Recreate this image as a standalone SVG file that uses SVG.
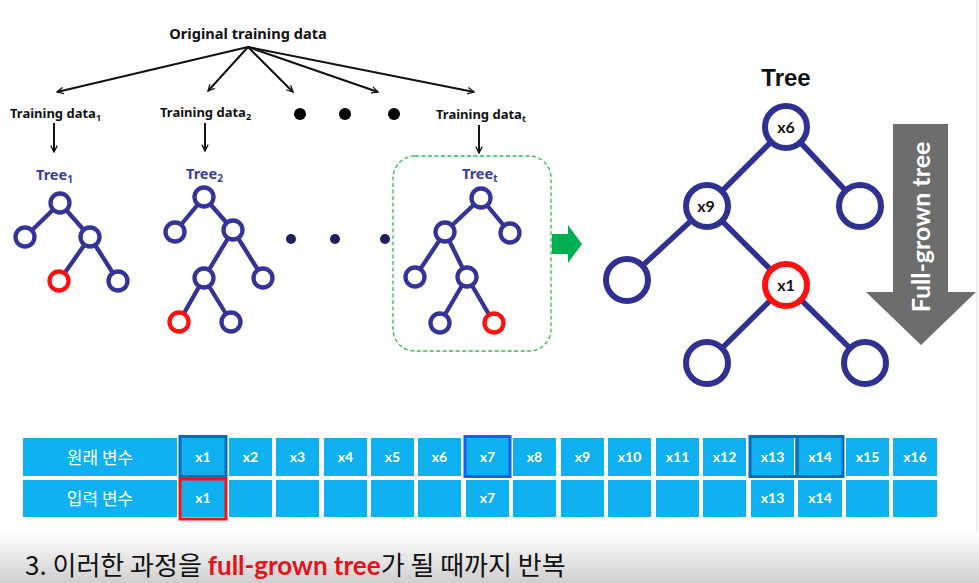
<svg xmlns="http://www.w3.org/2000/svg" width="979" height="583" viewBox="0 0 979 583">
<defs>
<style>
.lbl{font-family:"Noto Sans","Liberation Sans",sans-serif;font-weight:bold;font-size:13px;fill:#111}
.tl{font-family:"Noto Sans","Liberation Sans",sans-serif;font-weight:bold;font-size:14.5px;fill:#3b3b9e}
.e{stroke:#333399;stroke-width:4.3;fill:none}
.n{stroke:#333399;stroke-width:4.3;fill:#fff}
.r{stroke:#ff1010;stroke-width:4.3;fill:#fff}
.be{stroke:#2e3192;stroke-width:5.5;fill:none}
.bn{stroke:#2e3192;stroke-width:6;fill:#fff}
.br{stroke:#ff1010;stroke-width:6;fill:#fff}
.bt{font-family:"Lato","Liberation Sans",sans-serif;font-weight:bold;font-size:16px;fill:#111;text-anchor:middle}
.ar{stroke:#111;stroke-width:2;fill:none}
.cell{fill:#0eb0ef}
.ct{font-family:"Lato","Liberation Sans",sans-serif;font-weight:bold;font-size:14px;fill:#fff;text-anchor:middle}
.kt{font-family:"Noto Sans CJK KR",sans-serif;font-size:17px;fill:#fff;text-anchor:middle}
</style>
<marker id="ah" viewBox="0 0 10 10" refX="9" refY="5" markerWidth="8" markerHeight="8" orient="auto" markerUnits="userSpaceOnUse">
<path d="M1,1 L9,5 L1,9" fill="none" stroke="#111" stroke-width="1.6"/>
</marker>
<linearGradient id="bg" x1="0" y1="0" x2="0" y2="1">
<stop offset="0" stop-color="#ffffff"/>
<stop offset="1" stop-color="#cfcfcf"/>
</linearGradient>
</defs>
<rect width="979" height="583" fill="#fff"/>
<rect x="0" y="532" width="979" height="51" fill="url(#bg)"/>
<line x1="977" y1="0" x2="977" y2="532" stroke="#e6e6e6" stroke-width="1.5"/>

<g id="connectors">
<line class="ar" x1="248" y1="47" x2="57" y2="92" marker-end="url(#ah)"/>
<line class="ar" x1="248" y1="47" x2="208" y2="91" marker-end="url(#ah)"/>
<line class="ar" x1="248" y1="47" x2="293" y2="92" marker-end="url(#ah)"/>
<line class="ar" x1="248" y1="47" x2="378" y2="92" marker-end="url(#ah)"/>
<line class="ar" x1="248" y1="47" x2="474" y2="92" marker-end="url(#ah)"/>
<line class="ar" x1="54" y1="123" x2="54" y2="152" marker-end="url(#ah)"/>
<line class="ar" x1="205" y1="123" x2="205" y2="151" marker-end="url(#ah)"/>
<line class="ar" x1="479" y1="125" x2="479" y2="153" marker-end="url(#ah)"/>
</g>

<g id="original"><text class="lbl" x="248" y="39" text-anchor="middle" style="font-size:14.6px">Original training data</text></g>
<g id="td1"><text class="lbl" x="10" y="118">Training data<tspan style="font-size:9px" dy="3">1</tspan></text></g>
<g id="td2"><text class="lbl" x="160" y="117">Training data<tspan style="font-size:9px" dy="3">2</tspan></text></g>
<g id="dots-top">
<circle cx="300" cy="114" r="6" fill="#000"/>
<circle cx="345" cy="114" r="6" fill="#000"/>
<circle cx="394" cy="114" r="6" fill="#000"/>
</g>
<g id="tdt"><text class="lbl" x="436" y="119">Training data<tspan style="font-size:9px" dy="3">t</tspan></text></g>

<g id="tree1">
<text class="tl" x="36" y="180">Tree<tspan style="font-size:10px" dy="3">1</tspan></text>
<path class="e" d="M60,203 L25,237 M60,203 L90,237 M90,237 L59,281 M90,237 L118,281"/>
<circle class="n" cx="60" cy="203" r="9.5"/>
<circle class="n" cx="25" cy="237" r="9.5"/>
<circle class="n" cx="90" cy="237" r="9.5"/>
<circle class="r" cx="59" cy="281" r="9.5"/>
<circle class="n" cx="118" cy="281" r="9.5"/>
</g>

<g id="tree2">
<text class="tl" x="186" y="179">Tree<tspan style="font-size:10px" dy="3">2</tspan></text>
<path class="e" d="M204,197 L175,232 M204,197 L233,230 M233,230 L204,278 M233,230 L263,278 M204,278 L179,322 M204,278 L231,322"/>
<circle class="n" cx="204" cy="197" r="9.5"/>
<circle class="n" cx="175" cy="232" r="9.5"/>
<circle class="n" cx="233" cy="230" r="9.5"/>
<circle class="n" cx="204" cy="278" r="9.5"/>
<circle class="n" cx="263" cy="278" r="9.5"/>
<circle class="r" cx="179" cy="322" r="9.5"/>
<circle class="n" cx="231" cy="322" r="9.5"/>
</g>

<g id="dots-mid">
<circle cx="291" cy="239" r="5" fill="#1f2060"/>
<circle cx="335" cy="239" r="5" fill="#1f2060"/>
<circle cx="385" cy="239" r="5" fill="#1f2060"/>
</g>

<g id="treet">
<rect x="393" y="156" width="158" height="195" rx="22" fill="none" stroke="#2dbb55" stroke-width="1.3" stroke-dasharray="4,2.5"/>
<text class="tl" x="462" y="179">Tree<tspan style="font-size:10px" dy="3">t</tspan></text>
<path class="e" d="M481,198 L445,232 M481,198 L510,233 M445,232 L415,277 M445,232 L467,277 M467,277 L440,323 M467,277 L494,323"/>
<circle class="n" cx="481" cy="198" r="9.5"/>
<circle class="n" cx="445" cy="232" r="9.5"/>
<circle class="n" cx="510" cy="233" r="9.5"/>
<circle class="n" cx="415" cy="277" r="9.5"/>
<circle class="n" cx="467" cy="277" r="9.5"/>
<circle class="n" cx="440" cy="323" r="9.5"/>
<circle class="r" cx="494" cy="323" r="9.5"/>
</g>

<g id="green-arrow">
<path d="M552,234 L568,234 L568,225 L582,244 L568,263 L568,254 L552,254 Z" fill="#00b050"/>
</g>

<g id="big-tree">
<text x="786" y="86" text-anchor="middle" font-family="Liberation Sans, sans-serif" font-weight="bold" font-size="24" fill="#111">Tree</text>
<path class="be" d="M786,127 L707,206 M786,127 L860,206 M707,206 L627,280 M707,206 L786,285 M786,285 L707,363 M786,285 L865,363"/>
<circle class="bn" cx="786" cy="127" r="21"/>
<circle class="bn" cx="707" cy="206" r="21"/>
<circle class="bn" cx="860" cy="206" r="21"/>
<circle class="bn" cx="627" cy="280" r="21"/>
<circle class="br" cx="786" cy="285" r="21"/>
<circle class="bn" cx="707" cy="363" r="21"/>
<circle class="bn" cx="865" cy="363" r="21"/>
<text class="bt" x="786" y="133">x6</text>
<text class="bt" x="706" y="212">x9</text>
<text class="bt" x="786" y="291">x1</text>
</g>

<g id="full-grown-arrow">
<path d="M893,124 L948,124 L948,292 L976,292 L921,345 L866,292 L893,292 Z" fill="#6d6d6d"/>
<text x="0" y="0" transform="translate(930,227) rotate(-90)" text-anchor="middle" font-family="Lato, Liberation Sans, sans-serif" font-weight="bold" font-size="25" fill="#fff">Full-grown tree</text>
</g>

<g id="table">
<rect class="cell" x="23" y="438" width="154" height="38"/>
<rect class="cell" x="23" y="480" width="154" height="37"/>
<text class="kt" x="100" y="464">원래 변수</text>
<text class="kt" x="100" y="505">입력 변수</text>
<g id="row1">
<rect class="cell" x="181" y="438" width="44" height="38"/><text class="ct" x="203" y="462">x1</text>
<rect class="cell" x="229" y="438" width="43" height="38"/><text class="ct" x="250.5" y="462">x2</text>
<rect class="cell" x="276" y="438" width="43" height="38"/><text class="ct" x="297.5" y="462">x3</text>
<rect class="cell" x="324" y="438" width="43" height="38"/><text class="ct" x="345.5" y="462">x4</text>
<rect class="cell" x="371" y="438" width="43" height="38"/><text class="ct" x="392.5" y="462">x5</text>
<rect class="cell" x="418" y="438" width="43" height="38"/><text class="ct" x="439.5" y="462">x6</text>
<rect class="cell" x="466" y="438" width="43" height="38"/><text class="ct" x="487.5" y="462">x7</text>
<rect class="cell" x="513" y="438" width="43" height="38"/><text class="ct" x="534.5" y="462">x8</text>
<rect class="cell" x="561" y="438" width="43" height="38"/><text class="ct" x="582.5" y="462">x9</text>
<rect class="cell" x="608" y="438" width="43" height="38"/><text class="ct" x="629.5" y="462">x10</text>
<rect class="cell" x="656" y="438" width="43" height="38"/><text class="ct" x="677.5" y="462">x11</text>
<rect class="cell" x="703" y="438" width="43" height="38"/><text class="ct" x="724.5" y="462">x12</text>
<rect class="cell" x="751" y="438" width="43" height="38"/><text class="ct" x="772.5" y="462">x13</text>
<rect class="cell" x="798" y="438" width="44" height="38"/><text class="ct" x="820" y="462">x14</text>
<rect class="cell" x="846" y="438" width="43" height="38"/><text class="ct" x="867.5" y="462">x15</text>
<rect class="cell" x="893" y="438" width="44" height="38"/><text class="ct" x="915" y="462">x16</text>
</g>
<g id="row2">
<rect class="cell" x="181" y="480" width="44" height="37"/><text class="ct" x="203" y="503">x1</text>
<rect class="cell" x="229" y="480" width="43" height="37"/>
<rect class="cell" x="276" y="480" width="43" height="37"/>
<rect class="cell" x="324" y="480" width="43" height="37"/>
<rect class="cell" x="371" y="480" width="43" height="37"/>
<rect class="cell" x="418" y="480" width="43" height="37"/>
<rect class="cell" x="466" y="480" width="43" height="37"/><text class="ct" x="487.5" y="503">x7</text>
<rect class="cell" x="513" y="480" width="43" height="37"/>
<rect class="cell" x="561" y="480" width="43" height="37"/>
<rect class="cell" x="608" y="480" width="43" height="37"/>
<rect class="cell" x="656" y="480" width="43" height="37"/>
<rect class="cell" x="703" y="480" width="43" height="37"/>
<rect class="cell" x="751" y="480" width="43" height="37"/><text class="ct" x="772.5" y="503">x13</text>
<rect class="cell" x="798" y="480" width="44" height="37"/><text class="ct" x="820" y="503">x14</text>
<rect class="cell" x="846" y="480" width="43" height="37"/>
<rect class="cell" x="893" y="480" width="44" height="37"/>
</g>
<g id="highlights" fill="none">
<rect x="180" y="436.5" width="46" height="40" stroke="#0a6cb4" stroke-width="3"/>
<rect x="465" y="436.5" width="45" height="40" stroke="#1a5cff" stroke-width="3"/>
<rect x="750" y="436.5" width="47" height="40" stroke="#0a6cb4" stroke-width="3"/>
<rect x="797" y="436.5" width="46" height="40" stroke="#0a6cb4" stroke-width="3"/>
<rect x="180" y="479" width="46" height="40" stroke="#ff1010" stroke-width="3"/>
</g>
</g>

<g id="caption">
<text x="25" y="575" font-family="Noto Sans CJK KR, sans-serif" font-size="26" fill="#111">3. 이러한 과정을 <tspan fill="#e8101a" font-weight="bold" font-family="Lato, Noto Sans, sans-serif">full-grown tree</tspan>가 될 때까지 반복</text>
</g>
</svg>
